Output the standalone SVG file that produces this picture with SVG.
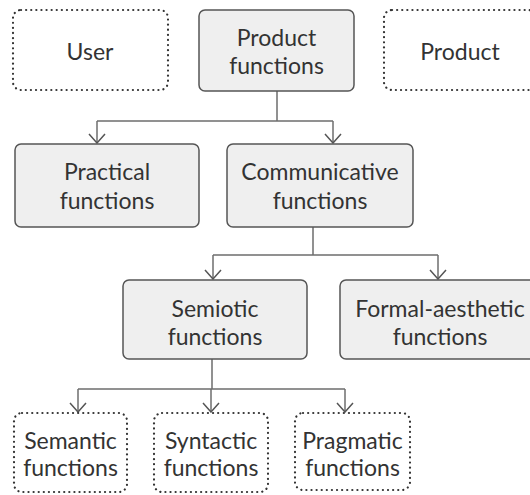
<svg xmlns="http://www.w3.org/2000/svg" width="530" height="495" viewBox="0 0 530 495">
  <defs>
    <style>
      .box { fill: #efefef; stroke: #555; stroke-width: 1.5; }
      .dot { fill: none; stroke: #333; stroke-width: 2.2; stroke-dasharray: 0.1 5; stroke-linecap: round; }
      .lbl { font-family: Lato, "Open Sans", sans-serif; font-size: 23px; fill: #333; text-anchor: middle; }
      .wire { fill: none; stroke: #6e6e6e; stroke-width: 1.5; }
    </style>
    <!-- open V arrowhead, drawn along +x and turned with the line -->
    <marker id="vee" viewBox="0 0 11 18" refX="10" refY="9" markerWidth="11" markerHeight="18" markerUnits="userSpaceOnUse" orient="auto">
      <path d="M1 1 L10 9 L1 17" fill="none" stroke="#555" stroke-width="1.5"/>
    </marker>
  </defs>

  <!-- connectors -->
  <g id="connectors">
    <path class="wire" d="M277 91 V121 M97 121 H333"/>
    <path class="wire" d="M97 121 V143" marker-end="url(#vee)"/>
    <path class="wire" d="M333 121 V143" marker-end="url(#vee)"/>
    <path class="wire" d="M313 227 V255 M213 255 H438"/>
    <path class="wire" d="M213 255 V279" marker-end="url(#vee)"/>
    <path class="wire" d="M438 255 V279" marker-end="url(#vee)"/>
    <path class="wire" d="M212 359 V389 M78 389 H345"/>
    <path class="wire" d="M78 389 V412" marker-end="url(#vee)"/>
    <path class="wire" d="M211 389 V412" marker-end="url(#vee)"/>
    <path class="wire" d="M345 389 V412" marker-end="url(#vee)"/>
  </g>

  <g id="user">
    <rect class="dot" x="13" y="10" width="155" height="80" rx="8"/>
    <text class="lbl" x="90" y="60">User</text>
  </g>

  <g id="product-functions">
    <rect class="box" x="199" y="10" width="155" height="81" rx="6"/>
    <text class="lbl" x="276.5" y="46">Product</text>
    <text class="lbl" x="276.5" y="74">functions</text>
  </g>

  <g id="product">
    <rect class="dot" x="384" y="10" width="152" height="80" rx="8"/>
    <text class="lbl" x="460" y="60">Product</text>
  </g>

  <g id="practical">
    <rect class="box" x="15" y="144" width="184" height="83" rx="6"/>
    <text class="lbl" x="107" y="180">Practical</text>
    <text class="lbl" x="107" y="209">functions</text>
  </g>

  <g id="communicative">
    <rect class="box" x="227" y="144" width="186" height="83" rx="6"/>
    <text class="lbl" x="320" y="180">Communicative</text>
    <text class="lbl" x="320" y="209">functions</text>
  </g>

  <g id="semiotic">
    <rect class="box" x="123" y="280" width="184" height="79" rx="6"/>
    <text class="lbl" x="215" y="317">Semiotic</text>
    <text class="lbl" x="215" y="345">functions</text>
  </g>

  <g id="formal-aesthetic">
    <rect class="box" x="340" y="280" width="200" height="79" rx="6"/>
    <text class="lbl" x="440" y="317">Formal-aesthetic</text>
    <text class="lbl" x="440" y="345">functions</text>
  </g>

  <g id="semantic">
    <rect class="dot" x="14" y="413" width="113" height="79" rx="8"/>
    <text class="lbl" x="70.5" y="449">Semantic</text>
    <text class="lbl" x="70.5" y="476">functions</text>
  </g>

  <g id="syntactic">
    <rect class="dot" x="154" y="413" width="114" height="79" rx="8"/>
    <text class="lbl" x="211" y="449">Syntactic</text>
    <text class="lbl" x="211" y="476">functions</text>
  </g>

  <g id="pragmatic">
    <rect class="dot" x="295" y="413" width="115" height="77" rx="8"/>
    <text class="lbl" x="352.5" y="449">Pragmatic</text>
    <text class="lbl" x="352.5" y="476">functions</text>
  </g>
</svg>
